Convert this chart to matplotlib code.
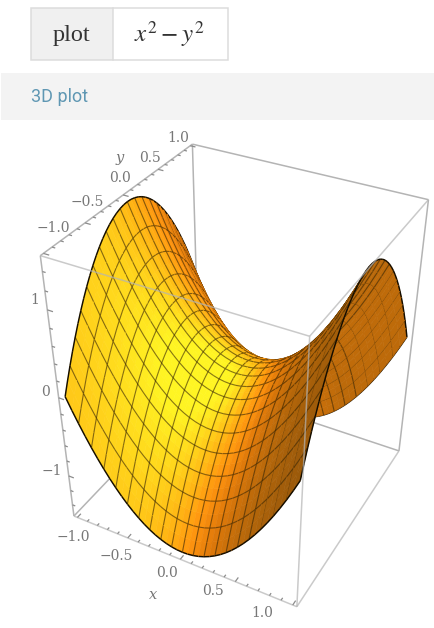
import matplotlib
matplotlib.use('Agg')
import matplotlib.pyplot as plt
import numpy as np
from matplotlib.collections import LineCollection, PolyCollection

# height of the saddle along one axis, from the centre out to the edge (0..1)
half_profile = [0.0000, 0.0025, 0.0100, 0.0225, 0.0400, 0.0625, 0.0900, 0.1225,
                0.1600, 0.2025, 0.2500, 0.3025, 0.3600, 0.4225, 0.4900, 0.5625,
                0.6400, 0.7225, 0.8100, 0.9025, 1.0000]
z_peak = 1.5

x_tick_labels = ['\u22121.0', '\u22120.5', '0.0', '0.5', '1.0']
y_tick_labels = ['\u22121.0', '\u22120.5', '0.0', '0.5', '1.0']
z_tick_labels = ['\u22121', '0', '1']

# where the box corners land on the page, (x, y, z) -> pixel
# the box is a little larger than the surface, as with plot range padding
B_XY = 1.035
B_Z = 1.04
box_world = [(-B_XY, -B_XY, B_Z), (-B_XY, B_XY, B_Z), (B_XY, B_XY, B_Z), (B_XY, -B_XY, B_Z),
             (-B_XY, -B_XY, -B_Z), (-B_XY, B_XY, -B_Z), (B_XY, B_XY, -B_Z), (B_XY, -B_XY, -B_Z)]
box_pixels = [(41, 255), (192, 144), (428, 199), (310, 338),
              (73, 515), (200, 386), (399, 450), (297, 607)]

x_label_pos = [(73, 537), (116, 556), (167, 573), (213, 591), (262, 613)]
y_label_pos = [(53, 228), (87, 202), (120, 178), (150, 158), (178, 138)]
z_label_pos = [(52, 471), (46, 392), (35, 300)]

MESH_EVERY = 2
AXIS_GREY = '#b4b4b4'
LABEL_GREY = '#777777'

# colour ramp of the surface, dark brown to pale yellow
ramp_s = [0.0, 0.25, 0.40, 0.50, 0.65, 0.82, 1.0]
ramp_r = [100, 175, 225, 255, 255, 255, 255]
ramp_g = [60, 100, 122, 148, 182, 215, 245]
ramp_b = [10, 10, 10, 15, 20, 28, 35]


def fit_camera():
    rows, rhs = [], []
    for (X, Y, Z), (u, v) in zip(box_world, box_pixels):
        rows.append([X, Y, Z, 1, 0, 0, 0, 0, -u * X, -u * Y, -u * Z])
        rows.append([0, 0, 0, 0, X, Y, Z, 1, -v * X, -v * Y, -v * Z])
        rhs += [u, v]
    p = np.linalg.lstsq(np.array(rows, float), np.array(rhs, float), rcond=None)[0]
    return np.append(p, 1.0).reshape(3, 4)


P = fit_camera()


def project(X, Y, Z):
    # Z is in box units; w grows away from the viewer
    X, Y, Z = np.asarray(X, float), np.asarray(Y, float), np.asarray(Z, float)
    u = P[0, 0] * X + P[0, 1] * Y + P[0, 2] * Z + P[0, 3]
    v = P[1, 0] * X + P[1, 1] * Y + P[1, 2] * Z + P[1, 3]
    w = P[2, 0] * X + P[2, 1] * Y + P[2, 2] * Z + P[2, 3]
    return u / w, v / w, w


def shade(nx, ny, nz):
    length = np.sqrt(nx ** 2 + ny ** 2 + nz ** 2)
    nx, ny, nz = nx / length, ny / length, nz / length
    key = np.clip(0.33 * nx - 0.49 * ny + 0.81 * nz, 0, 1) ** 2.5
    back = np.clip(-0.6 * nx + 0.5 * ny + 0.6 * nz, 0, 1)
    side = np.clip(0.85 * nx + 0.2 * ny + 0.5 * nz, 0, 1)
    s = np.clip(0.03 + 0.85 * key + 0.28 * back + 0.32 * side, 0, 1)
    rgb = [np.interp(s, ramp_s, chan) for chan in (ramp_r, ramp_g, ramp_b)]
    return np.stack(rgb, axis=-1) / 255


fig = plt.figure(figsize=(4.35, 6.28), dpi=100)
ax = fig.add_axes([0, 0, 1, 1])
ax.set_xlim(0, 435)
ax.set_ylim(628, 0)
ax.axis('off')
plt.rcParams['mathtext.fontset'] = 'stix'

# header table and banner
ax.add_patch(plt.Rectangle((31.5, 8), 81.5, 52, fc='#f0f0f0', ec='none', zorder=1))
ax.add_patch(plt.Rectangle((31.5, 8), 197, 52, fc='none', ec='#dcdcdc', lw=1.1, zorder=2))
ax.plot([113, 113], [8, 60], color='#dcdcdc', lw=1.1, zorder=2)
ax.text(72, 35, 'plot', family='Liberation Serif', fontsize=17.5, color='#333333',
        ha='center', va='center')
ax.text(169, 34, r'$x^2 - y^2$', fontsize=18, color='#333333', ha='center', va='center')
ax.add_patch(plt.Rectangle((1, 73), 434, 47, fc='#f3f3f3', ec='none', zorder=1))
ax.text(31, 97, '3D plot', family='Roboto', fontsize=13, color='#5f97b3', ha='left', va='center')

# surface
profile = np.array(half_profile[::-1] + half_profile[1:])
grid = np.linspace(-1, 1, len(profile))
Xg, Yg = np.meshgrid(grid, grid, indexing='ij')
Zbox = profile[:, None] - profile[None, :]
dzdx, dzdy = np.gradient(Zbox, grid, grid)
colours = shade(-dzdx, -dzdy, np.ones_like(Zbox))
U, V, W = project(Xg, Yg, Zbox)

n = len(grid)
bias = (W.max() - W.min()) * 0.012
items = []
for i in range(n - 1):
    for j in range(n - 1):
        verts = np.array([[U[i, j], V[i, j]], [U[i + 1, j], V[i + 1, j]],
                          [U[i + 1, j + 1], V[i + 1, j + 1]], [U[i, j + 1], V[i, j + 1]],
                          [U[i, j], V[i, j]]])
        depth = W[i:i + 2, j:j + 2].mean()
        c = colours[i:i + 2, j:j + 2].mean(axis=(0, 1))
        items.append((depth, verts, (*c, 1.0), (*c, 1.0), 0.4))


def add_segment(i0, j0, i1, j1):
    verts = np.array([[U[i0, j0], V[i0, j0]], [U[i1, j1], V[i1, j1]]])
    depth = (W[i0, j0] + W[i1, j1]) / 2 - bias
    on_edge = (i0 == i1 and i0 in (0, n - 1)) or (j0 == j1 and j0 in (0, n - 1))
    if on_edge:
        items.append((depth, verts, (0, 0, 0, 0), (0.08, 0.05, 0, 1.0), 1.05))
    else:
        items.append((depth, verts, (0, 0, 0, 0), (0.2, 0.13, 0, 0.6), 0.8))


for i in range(0, n, MESH_EVERY):
    for j in range(n - 1):
        add_segment(i, j, i, j + 1)
        add_segment(j, i, j + 1, i)

items.sort(key=lambda item: -item[0])
surface = PolyCollection([it[1] for it in items], closed=False,
                         facecolors=[it[2] for it in items],
                         edgecolors=[it[3] for it in items],
                         linewidths=[it[4] for it in items], zorder=5)
ax.add_collection(surface)

# box, back edges go under the surface and front edges over it
corner = dict(zip('ABCDFHEG', box_world))


def box_lines(pairs, zorder, alpha=1.0):
    segs = []
    for a, b in pairs:
        ua, va, _ = project(*corner[a])
        ub, vb, _ = project(*corner[b])
        segs.append([(ua, va), (ub, vb)])
    ax.add_collection(LineCollection(segs, colors=AXIS_GREY, linewidths=1.1, alpha=alpha, zorder=zorder))


box_lines(['AB', 'BC', 'BH', 'HF', 'HE', 'AF', 'CE'], 3)
box_lines(['AD', 'DC', 'DG', 'FG', 'GE'], 6, alpha=0.7)


# ticks, every 0.1 on x and y and every 0.2 on z
def axis_ticks(points, major_mask, direction):
    segs = []
    for (X, Y, Z), major in zip(points, major_mask):
        size = 0.05 if major else 0.028
        u0, v0, _ = project(X, Y, Z)
        u1, v1, _ = project(X + direction[0] * size, Y + direction[1] * size, Z + direction[2] * size)
        segs.append([(u0, v0), (u1, v1)])
    ax.add_collection(LineCollection(segs, colors='#8c8c8c', linewidths=0.9, zorder=7))


minor = np.arange(-10, 11)
axis_ticks([(k / 10, -B_XY, -B_Z) for k in minor], minor % 5 == 0, (0, 1, 0))
axis_ticks([(-B_XY, k / 10, B_Z) for k in minor], minor % 5 == 0, (1, 0, 0))
minor_z = np.arange(-7, 8)
axis_ticks([(-B_XY, -B_XY, k * 0.2 / z_peak) for k in minor_z], minor_z % 5 == 0, (1, 0, 0))

tick_style = dict(family='DejaVu Serif', fontsize=10, color=LABEL_GREY, ha='center', va='center', zorder=8)
for label, (px, py) in zip(x_tick_labels, x_label_pos):
    ax.text(px, py, label, **tick_style)
for label, (px, py) in zip(y_tick_labels, y_label_pos):
    ax.text(px, py, label, **tick_style)
for label, (px, py) in zip(z_tick_labels, z_label_pos):
    ax.text(px, py, label, **tick_style)

name_style = dict(family='DejaVu Serif', style='italic', fontsize=10.5, color=LABEL_GREY,
                  ha='center', va='center', zorder=8)
ax.text(153, 595, 'x', **name_style)
ax.text(120, 158, 'y', **name_style)

fig.savefig('out.png', dpi=100)
plt.close(fig)
